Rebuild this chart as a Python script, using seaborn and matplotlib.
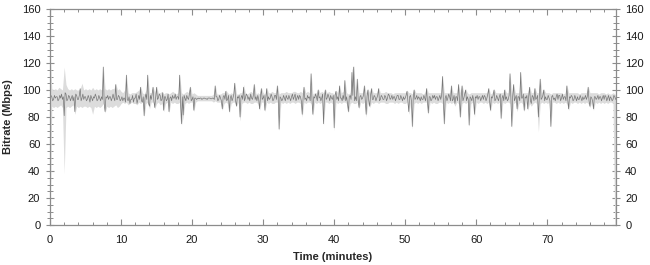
import numpy as np
import pandas as pd
import matplotlib
matplotlib.use("Agg")
import matplotlib.pyplot as plt
import seaborn as sns
from matplotlib.ticker import MultipleLocator

# ---- data ----
# mean bitrate, one value every 0.125 minute (8 per row = one minute)
bitrate_mean = [
    94, 96, 95, 92, 93, 96, 94, 95,
    95, 92, 93, 96, 94, 97, 93, 95,
    81, 98, 97, 92, 93, 96, 95, 92,
    94, 96, 92, 95, 84, 97, 96, 93,
    93, 96, 101, 92, 94, 97, 93, 95,
    95, 92, 93, 96, 94, 91, 96, 94,
    92, 95, 94, 97, 95, 92, 93, 96,
    94, 92, 95, 93, 117, 90, 84, 95,
    94, 96, 93, 95, 95, 92, 94, 97,
    94, 92, 104, 93, 93, 96, 95, 92,
    93, 95, 92, 94, 94, 91, 111, 93,
    92, 95, 90, 93, 93, 96, 91, 94,
    94, 97, 90, 93, 96, 93, 102, 92,
    91, 95, 81, 94, 97, 93, 111, 90,
    88, 96, 93, 97, 102, 92, 87, 95,
    102, 93, 94, 97, 96, 92, 93, 98,
    85, 95, 95, 92, 93, 97, 84, 94,
    95, 92, 96, 94, 94, 97, 93, 95,
    95, 93, 111, 90, 75, 95, 81.5, 96,
    94, 92, 96, 94, 93, 97, 102, 92,
    93, 95, 85, 94, 94, 93, 93.5, 94,
    93.5, 94, 94, 93, 93.5, 94, 94, 93.5,
    93.5, 93, 94, 94, 94, 93.5, 93.5, 94,
    94, 93, 103, 95, 95, 92, 93, 96,
    94, 92, 86, 95, 96, 93, 99, 92,
    93, 96, 84, 94, 96, 92, 94, 97,
    105, 92, 88, 95, 94, 96, 80, 94,
    96, 93, 102, 92, 94, 97, 96, 93,
    95, 92, 97, 94, 93, 96, 104, 93,
    95, 92, 96, 93, 86, 95, 101, 93,
    94, 96, 85, 94, 101, 92, 95, 93,
    94, 97, 95, 92, 93, 96, 96, 93,
    103, 94, 71, 95, 94, 92, 93, 96,
    94, 92, 96, 94, 93, 96, 94, 92,
    95, 97, 93, 95, 97, 92, 94, 96,
    93, 96, 95, 92, 82, 94, 102, 93,
    94, 92, 96, 94, 95, 92, 112, 93,
    82, 95, 94, 97, 95, 92, 100, 94,
    95, 92, 94, 97, 75, 94, 100, 93,
    94, 97, 95, 92, 96, 94, 93, 96,
    72, 96, 99, 93, 95, 92, 103, 94,
    94, 92, 96, 93, 107, 92, 95, 90,
    84, 95, 96, 93, 113, 96, 117, 92,
    95, 92, 108, 93, 87, 95, 96, 93,
    94, 96, 103, 93, 82, 95, 100, 92,
    88, 96, 101, 93, 93, 96, 95, 92,
    94, 96, 101, 92, 93, 96, 95, 93,
    93, 96, 95, 92, 94, 97, 96, 93,
    94, 96, 93, 95, 95, 92, 94, 96,
    96, 93, 93, 96, 94, 92, 95, 93,
    94, 96, 99, 92, 84, 95, 96, 92,
    73, 94, 100, 93, 94, 96, 93, 95,
    94, 92, 95, 93, 93, 96, 94, 92,
    101, 92, 83, 95, 95, 92, 93, 96,
    94, 96, 93, 95, 95, 92, 94, 96,
    93, 96, 110, 91, 75, 94, 96, 92,
    94, 97, 95, 92, 103, 92, 93, 96,
    90, 95, 95, 92, 104, 94, 80, 95,
    103, 92, 94, 97, 100, 92, 95, 93,
    74, 95, 94, 92, 96, 93, 82, 95,
    94, 96, 93, 95, 95, 92, 94, 96,
    93, 96, 95, 92, 94, 97, 101, 92,
    85, 95, 94, 96, 100, 92, 93, 96,
    94, 92, 95, 97, 79, 94, 96, 92,
    100, 93, 95, 92, 93, 96, 112, 94,
    73, 95, 104, 92, 94, 96, 86, 95,
    95, 92, 113, 94, 94, 97, 85, 95,
    94, 96, 86, 95, 102, 92, 90, 96,
    95, 92, 101, 93, 94, 96, 80, 95,
    108, 93, 94, 96, 100, 92, 95, 93,
    93, 96, 94, 92, 73, 95, 96, 93,
    94, 92, 95, 97, 93, 96, 96, 92,
    94, 97, 93, 95, 95, 92, 103, 93,
    86, 95, 94, 96, 95, 92, 93, 96,
    94, 92, 95, 93, 93, 96, 94, 92,
    95, 93, 94, 96, 93, 95, 102, 92,
    88, 95, 94, 92, 86, 95, 95, 93,
    94, 96, 93, 95, 95, 92, 94, 96,
    93, 96, 95, 92, 94, 96, 92, 95,
    94, 92, 93, 96, 95, 93, 94, 95,
]
# min / max envelope, one value every 0.25 minute (4 per row = one minute)
bitrate_min = [
    0, 88, 87, 88,   87, 88, 89, 87,   38, 87, 88, 87,   88, 89, 82, 88,
    87, 88, 87, 88,  88, 87, 88, 87,   82, 88, 87, 88,   87, 88, 90, 83,
    88, 87, 88, 87,  88, 89, 87, 88,   90, 91, 90, 91,   89, 90, 91, 90,
    90, 89, 91, 90,  91, 80, 90, 91,   86, 91, 91, 86,   90, 91, 89, 90,
    84, 90, 91, 83,  91, 90, 91, 90,   90, 91, 74, 80,   90, 91, 90, 91,
    91, 84, 91, 92,  92, 92, 92, 92,   92, 92, 92, 92,   91, 92, 91, 91,
    91, 85, 90, 91,  90, 83, 90, 91,   91, 88, 91, 77,   90, 91, 91, 90,
    91, 90, 90, 91,  91, 90, 85, 91,   91, 84, 91, 90,   91, 90, 90, 91,
    91, 70, 91, 90,  91, 90, 91, 90,   91, 91, 90, 91,   91, 90, 80, 91,
    90, 91, 91, 90,  81, 91, 90, 91,   90, 91, 74, 91,   91, 90, 91, 90,
    70, 91, 90, 91,  90, 91, 91, 90,   83, 90, 91, 90,   90, 91, 86, 91,
    90, 91, 80, 90,  87, 91, 90, 91,   91, 90, 91, 91,   91, 90, 90, 91,
    91, 91, 90, 91,  90, 91, 91, 90,   90, 91, 82, 91,   71, 90, 91, 90,
    91, 90, 91, 91,  91, 82, 91, 90,   91, 90, 90, 91,   91, 90, 74, 91,
    90, 91, 90, 91,  88, 91, 90, 79,   90, 91, 90, 91,   73, 90, 91, 80,
    91, 90, 91, 91,  90, 91, 90, 91,   84, 91, 90, 91,   90, 91, 78, 91,
    90, 91, 91, 90,  72, 90, 91, 84,   90, 91, 90, 84,   91, 85, 90, 88,
    90, 91, 90, 69,  90, 91, 90, 91,   90, 91, 72, 91,   91, 90, 91, 90,
    91, 90, 91, 90,  85, 91, 90, 91,   91, 90, 91, 90,   91, 90, 91, 90,
    87, 91, 85, 91,  90, 91, 90, 91,   90, 91, 90, 91,   91, 90, 0, 0,
]
bitrate_max = [
    130, 101, 100, 101,  100, 102, 101, 100,  117, 104, 101, 100,  101, 100, 101, 100,
    100, 101, 105, 100,  101, 100, 101, 100,  102, 100, 101, 100,  101, 100, 118, 101,
    100, 101, 100, 101,  101, 105, 100, 101,  99, 98, 100, 112,    98, 97, 98, 98,
    98, 99, 100, 103,    98, 97, 100, 112,    98, 98, 103, 98,     103, 98, 98, 99,
    97, 98, 98, 97,      98, 99, 98, 97,      98, 112, 98, 97,     98, 99, 98, 103,
    97, 98, 97, 96,      96, 96, 96, 96,      96, 96, 96, 96,      97, 104, 97, 97,
    97, 98, 98, 100,     98, 97, 98, 97,      106, 97, 97, 98,     98, 104, 98, 97,
    98, 99, 98, 105,     97, 98, 97, 102,     98, 97, 102, 98,     98, 99, 98, 98,
    104, 97, 98, 98,     98, 99, 98, 98,      98, 99, 99, 98,      98, 99, 98, 103,
    98, 99, 98, 113,     97, 98, 98, 101,     98, 99, 98, 101,     98, 99, 98, 98,
    97, 100, 98, 104,    98, 99, 108, 98,     97, 98, 115, 118,    98, 109, 98, 98,
    98, 104, 98, 101,    98, 102, 98, 98,     98, 102, 98, 98,     98, 99, 98, 98,
    98, 97, 98, 98,      98, 98, 98, 98,      98, 100, 98, 98,     97, 101, 98, 98,
    98, 98, 97, 98,      102, 98, 98, 98,     98, 98, 98, 98,      98, 111, 98, 98,
    98, 98, 104, 98,     98, 98, 105, 98,     104, 98, 101, 98,    97, 98, 98, 98,
    98, 98, 98, 98,      98, 98, 98, 102,     97, 98, 101, 98,     98, 98, 98, 98,
    101, 98, 98, 113,    97, 105, 98, 98,     98, 114, 98, 98,     98, 98, 103, 98,
    98, 102, 98, 98,     109, 98, 101, 98,    98, 98, 97, 98,      98, 98, 98, 98,
    98, 97, 98, 104,     98, 98, 98, 98,      98, 98, 97, 98,      98, 98, 98, 103,
    98, 98, 98, 98,      98, 97, 98, 98,      98, 97, 98, 97,      97, 98, 97, 96,
]
x_tick_labels = [0, 10, 20, 30, 40, 50, 60, 70]
y_tick_labels = [0, 20, 40, 60, 80, 100, 120, 140, 160]

line_minutes = np.arange(len(bitrate_mean)) * 0.125
band_minutes = np.arange(len(bitrate_min)) * 0.25

df_line = pd.DataFrame({"minutes": line_minutes, "bitrate": bitrate_mean})

# ---- style ----
sns.set_theme(style="white")
plt.rcParams["font.family"] = ["Liberation Sans", "DejaVu Sans"]

fig = plt.figure(figsize=(6.5, 2.65), dpi=100)
ax = fig.add_axes([50 / 650, 1 - 225 / 265, 565.5 / 650, 216 / 265])

ax.fill_between(band_minutes, bitrate_min, bitrate_max, color="#dcdcdc",
                linewidth=0, zorder=1)
sns.lineplot(data=df_line, x="minutes", y="bitrate", ax=ax, color="#787878",
             linewidth=0.5, estimator=None, zorder=2)

ax.set_xlim(0, 79.6)
ax.set_ylim(0, 160)
ax.set_xticks(x_tick_labels)
ax.set_yticks(y_tick_labels)
ax.xaxis.set_minor_locator(MultipleLocator(2))
ax.yaxis.set_minor_locator(MultipleLocator(5))

spine_c = "#8c8c8c"
for s in ax.spines.values():
    s.set_color(spine_c)
    s.set_linewidth(0.9)

ax.tick_params(axis="x", which="both", direction="in", top=True, bottom=True,
               color=spine_c, labelsize=8, labelcolor="#1a1a1a", pad=7)
ax.tick_params(axis="x", which="major", length=4, width=0.8)
ax.tick_params(axis="x", which="minor", length=2.5, width=0.7)
ax.tick_params(axis="y", which="both", direction="inout", left=True, right=True,
               labelleft=True, labelright=True, color=spine_c, labelsize=8,
               labelcolor="#1a1a1a", pad=4)
ax.tick_params(axis="y", which="major", length=6, width=0.8)
ax.tick_params(axis="y", which="minor", length=4, width=0.7)

ax.set_xlabel("Time (minutes)", fontsize=8, fontweight="bold", labelpad=5)
ax.set_ylabel("Bitrate (Mbps)", fontsize=8, fontweight="bold", labelpad=6)

fig.savefig("out.png", dpi=100)
